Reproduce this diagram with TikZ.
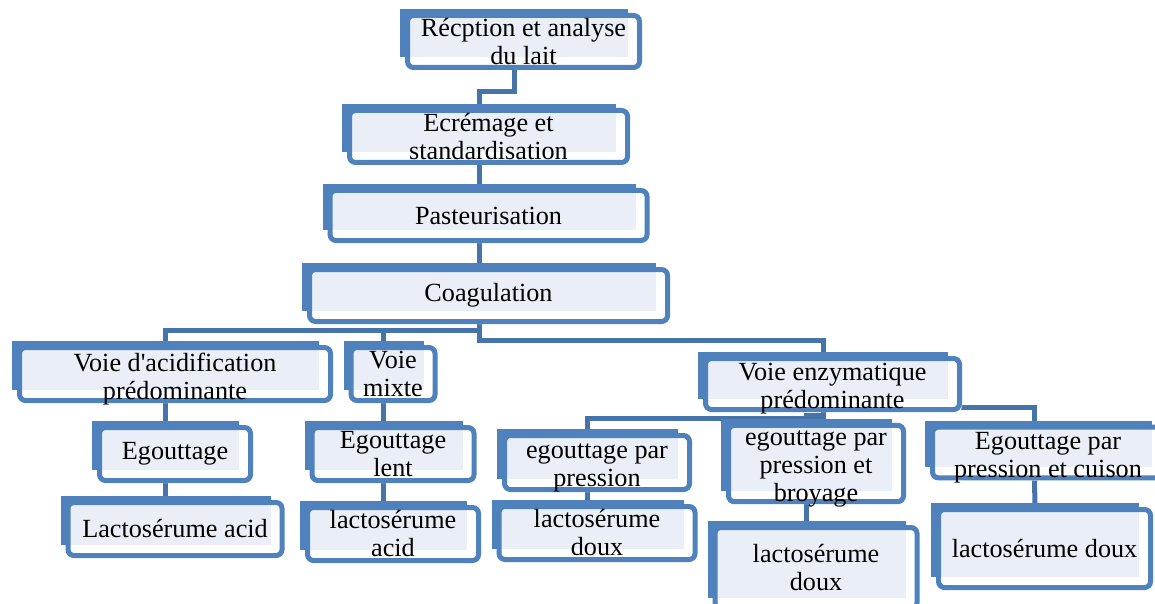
\documentclass[tikz,border=0pt]{standalone}
\usepackage{fontspec}
\setmainfont{Liberation Serif}[Ligatures=TeXOff]
\usetikzlibrary{calc}
\usetikzlibrary{backgrounds}
\definecolor{office-blue}{HTML}{4F81BD}
\definecolor{office-pale}{HTML}{EAEFF7}
\definecolor{office-link}{HTML}{4673AA}
\newcommand{\backx}{-4.75pt}
\newcommand{\low}[1]{\raisebox{-2.5pt}[\height][\depth]{#1}}
\tikzset{
  stage/.style 2 args={
    draw=office-blue,
    line width=2.5pt,
    rounded corners=3pt,
    align=center,
    inner sep=0pt,
    font=\fontsize{13.1}{14}\selectfont,
    minimum width=#1*0.5pt-2.5pt,
    minimum height=#2*0.5pt-2.5pt},
}

\begin{document}
\begin{tikzpicture}[
  x=0.5pt, y=-0.5pt,
  link/.style={draw=office-link, line width=2.5pt}
]
\useasboundingbox (0,0) rectangle (1155,604);

% Main chain
\node[stage={237}{57}] (rec) at (523.5, 41.5) {Récption et analyse\\du lait};
\node[stage={283}{57}] (ecr) at (488.5, 136.5) {Ecrémage et\\standardisation};
\node[stage={322}{55}] (past) at (488.5, 215.5) {Pasteurisation};
\node[stage={363}{57}] (coag) at (488.5, 295.5) {Coagulation};

% Ways
\node[stage={316}{58}] (acid) at (175, 374) {\low{Voie d'acidification}\\\low{prédominante}};
\node[stage={89}{58}] (mixte) at (393, 374) {Voie\\mixte};
\node[stage={259}{56}] (enz) at (832.5, 384) {\low{Voie enzymatique}\\\low{prédominante}};

% Draining
\node[stage={156}{58}] (egout) at (175, 454) {Egouttage};
\node[stage={167}{58}] (lent) at (393, 454) {Egouttage\\lent};
\node[stage={190}{59}] (press) at (597, 462.5) {\low{egouttage par}\\\low{pression}};
\node[stage={180}{77}] (broy) at (816, 463.5) {\low{egouttage par}\\\low{pression et}\\\low{broyage}};
\node[stage={236}{55}] (cuis) at (1048, 452.5) {\low{Egouttage par}\\\low{pression et cuison}};

% Whey
\node[stage={219}{58}] (lacA) at (175, 529) {Lactosérume acid};
\node[stage={176}{58}] (lacB) at (393, 534) {lactosérume\\acid};
\node[stage={201}{58}] (lacC) at (597, 533) {lactosérume\\doux};
\node[stage={207}{86}] (lacD) at (816, 568) {lactosérume\\doux};
\node[stage={217}{83}] (lacE) at (1044.5, 548.5) {lactosérume doux};

\begin{scope}[on background layer]
% Links
\draw[link] ($(rec.south)+(\backx,0)$) |- ($(ecr.north)+(\backx,8pt)$) -- ($(ecr.north)+(\backx,0)$);
\draw[link] ($(ecr.south)+(\backx,0)$) -- ($(past.north)+(\backx,0)$);
\draw[link] ($(past.south)+(\backx,0)$) -- ($(coag.north)+(\backx,0)$);
\draw[link] ($(coag.south)+(\backx,0)$) |- ($(acid.north)+(\backx,7.5pt)$) -- ($(acid.north)+(\backx,0)$);
\draw[link] ($(coag.south)+(\backx,0)$) |- ($(mixte.north)+(\backx,7.5pt)$) -- ($(mixte.north)+(\backx,0)$);
\draw[link] ($(coag.south)+(\backx,0)$) |- ($(enz.north)+(\backx,8pt)$) -- ($(enz.north)+(\backx,0)$);
\draw[link] ($(acid.south)+(\backx,0)$) -- ($(egout.north)+(\backx,0)$);
\draw[link] ($(mixte.south)+(\backx,0)$) -- ($(lent.north)+(\backx,0)$);
\draw[link] ($(enz.south)+(\backx,0)$) |- ($(press.north)+(\backx,7.5pt)$) -- ($(press.north)+(\backx,0)$);
\draw[link] ($(enz.south)+(\backx,0)$) |- ($(broy.north)+(\backx,3.5pt)$) -- ($(broy.north)+(\backx,0)$);
\draw[link] ($(enz.south)+(\backx,8pt)$) |- ($(cuis.north)+(-6.75pt,8.5pt)$) -- ($(cuis.north)+(-6.75pt,0)$);
\draw[link] ($(egout.south)+(\backx,0)$) -- ($(lacA.north)+(\backx,0)$);
\draw[link] ($(lent.south)+(\backx,0)$) -- ($(lacB.north)+(\backx,0)$);
\draw[link] ($(press.south)+(\backx,0)$) -- ($(lacC.north)+(\backx,0)$);
\draw[link] ($(broy.south)+(\backx,0)$) -- ($(lacD.north)+(\backx,0)$);
\draw[link] ($(cuis.south)+(-6.75pt,0)$) -- ($(lacE.north)+(\backx,0)$);

% Plates behind the boxes
\foreach \n in {rec, ecr, past, coag, acid, mixte, enz, egout, lent, press, broy, cuis, lacA, lacB, lacC, lacD, lacE} {
  \fill[white, rounded corners=3pt] (\n.north west) rectangle (\n.south east);
  \fill[office-blue] ($(\n.north west)+(-2.5pt,2pt)$) rectangle ($(\n.south east)+(-7pt,6.5pt)$);
  \fill[office-pale] ($(\n.north west)+(2pt,-2pt)$) rectangle ($(\n.south east)+(-7pt,6.5pt)$);
}
\end{scope}
\end{tikzpicture}
\end{document}
